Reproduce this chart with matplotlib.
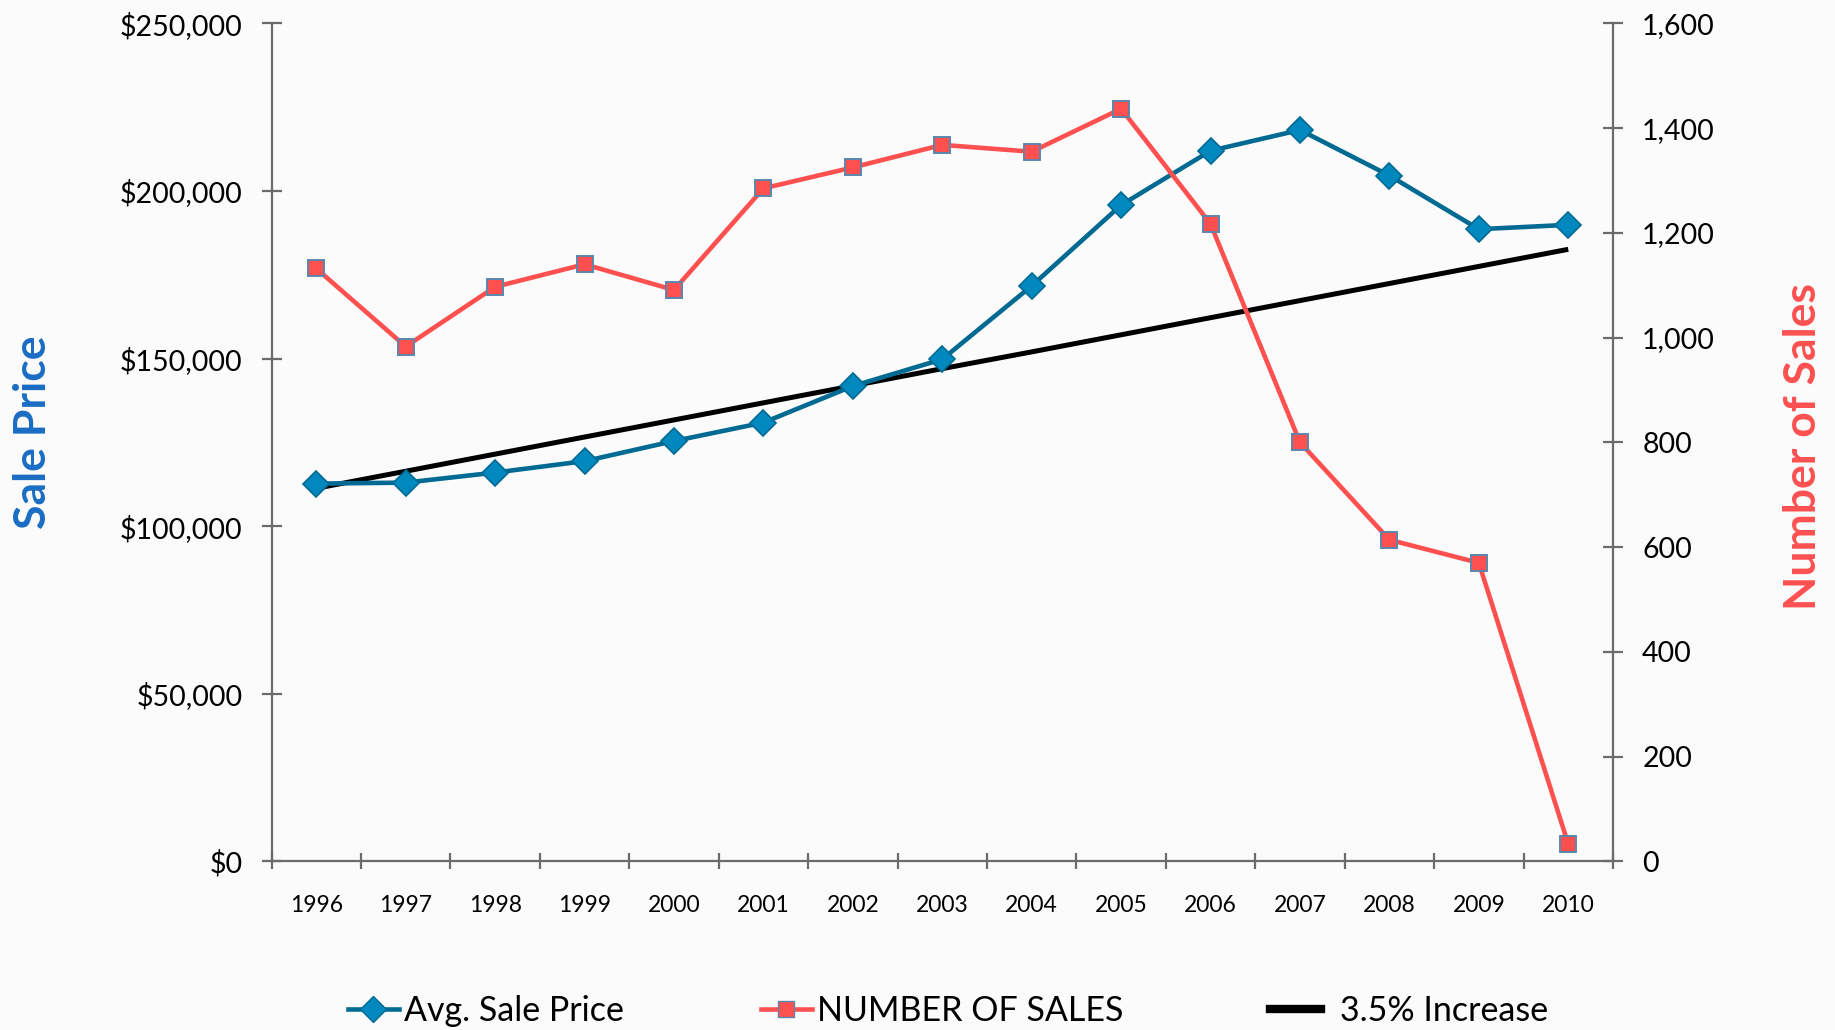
import matplotlib

matplotlib.use("Agg")
import matplotlib.pyplot as plt
from matplotlib.lines import Line2D
from matplotlib.ticker import FuncFormatter, FixedLocator

years = ["1996", "1997", "1998", "1999", "2000", "2001", "2002", "2003",
         "2004", "2005", "2006", "2007", "2008", "2009", "2010"]
avg_sale_price = [112700, 113000, 116000, 119400, 125400, 130900, 141800, 149800,
                  171700, 195800, 212000, 218200, 204600, 188600, 189900]
number_of_sales = [1132, 983, 1097, 1140, 1091, 1285, 1325, 1368,
                   1355, 1437, 1217, 800, 614, 570, 33]
increase_line = [111300, 116400, 121500, 126600, 131700, 136800, 141900, 147000,
                 152000, 157100, 162200, 167300, 172400, 177500, 182600]
legend_labels = ["Avg. Sale Price", "NUMBER OF SALES", "3.5% Increase"]

BLUE_LINE = "#006a93"
BLUE_FACE = "#0088bf"
RED = "#ff5050"
SQUARE_EDGE = "#5b86ad"
AXIS_GREY = "#6b6b6b"
FONT = "Lato"

plt.rcParams["font.family"] = [FONT, "DejaVu Sans"]

fig = plt.figure(figsize=(18.35, 10.30), dpi=100)
fig.patch.set_facecolor("#fbfbfb")
ax = fig.add_axes([0.148, 0.1637, 0.731, 0.8136])
ax.set_facecolor("none")
ax2 = ax.twinx()

x = list(range(len(years)))

ax.plot(x, increase_line, color="black", linewidth=3.6, zorder=3, solid_capstyle="butt")
ax.plot(x, avg_sale_price, color=BLUE_LINE, linewidth=3.3, marker="D", markersize=13,
        markerfacecolor=BLUE_FACE, markeredgecolor=BLUE_LINE, markeredgewidth=1.2, zorder=4)
ax2.plot(x, number_of_sales, color=RED, linewidth=3.3, marker="s", markersize=11.5,
         markerfacecolor=RED, markeredgecolor=SQUARE_EDGE, markeredgewidth=1.4, zorder=4)

ax.set_xlim(-0.5, len(years) - 0.5)
ax.set_ylim(0, 250000)
ax2.set_ylim(0, 1600)
ax.set_yticks(range(0, 250001, 50000))
ax2.set_yticks(range(0, 1601, 200))
ax.yaxis.set_major_formatter(FuncFormatter(lambda v, _: f"${v:,.0f}"))
ax2.yaxis.set_major_formatter(FuncFormatter(lambda v, _: f"{v:,.0f}"))

# category axis: tick marks between years, labels centred on years
ax.xaxis.set_major_locator(FixedLocator([i - 0.5 for i in range(len(years) + 1)]))
ax.xaxis.set_minor_locator(FixedLocator(x))
ax.set_xticklabels([])
ax.set_xticklabels(years, minor=True)
ax.tick_params(axis="x", which="major", direction="inout", length=12, width=1.6,
               color=AXIS_GREY, labelbottom=False)
ax.tick_params(axis="x", which="minor", length=0, pad=24, labelsize=16.5)
ax.tick_params(axis="y", direction="inout", length=14, width=1.6, color=AXIS_GREY,
               pad=14, labelsize=20.5)
ax2.tick_params(axis="y", direction="inout", length=14, width=1.6, color=AXIS_GREY,
                pad=14, labelsize=20.5)

for a in (ax, ax2):
    a.spines["top"].set_visible(False)
    for side in ("left", "right", "bottom"):
        a.spines[side].set_color(AXIS_GREY)
        a.spines[side].set_linewidth(1.6)
ax.spines["right"].set_visible(False)
ax2.spines["left"].set_visible(False)
ax2.spines["bottom"].set_visible(False)

fig.text(0.018, 0.580, "Sale Price", rotation=90, ha="center", va="center",
         fontsize=32, fontweight="bold", color="#1a6dc4")
fig.text(0.9826, 0.566, "Number of Sales", rotation=90, ha="center", va="center",
         fontsize=32, fontweight="bold", color=RED)

handles = [
    Line2D([0], [0], color=BLUE_LINE, linewidth=3.3, marker="D", markersize=13,
           markerfacecolor=BLUE_FACE, markeredgecolor=BLUE_LINE),
    Line2D([0], [0], color=RED, linewidth=3.3, marker="s", markersize=11.5,
           markerfacecolor=RED, markeredgecolor=SQUARE_EDGE),
    Line2D([0], [0], color="black", linewidth=6),
]
legend_x = [0.1894, 0.4145, 0.692]
text_pads = [0.15, 0.15, 0.55]
for handle, label, lx, tp in zip(handles, legend_labels, legend_x, text_pads):
    fig.legend([handle], [label], loc="center left", bbox_to_anchor=(lx, 0.0184),
               frameon=False, fontsize=24.5, handlelength=1.5, handletextpad=tp,
               borderpad=0, borderaxespad=0)

fig.savefig("out.png", dpi=100, facecolor=fig.get_facecolor())
